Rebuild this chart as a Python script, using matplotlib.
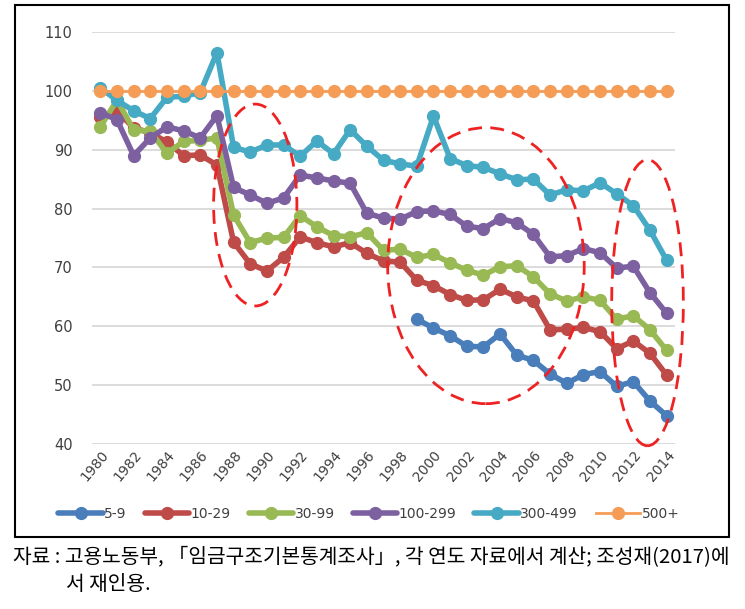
import matplotlib
matplotlib.use("Agg")
import matplotlib.pyplot as plt
from matplotlib.patches import Ellipse, Rectangle
import numpy as np

years = list(range(1980, 2015))

s_5_9 = [None]*19 + [61.2, 59.7, 58.4, 56.6, 56.5, 58.7, 55.1, 54.2, 51.9, 50.3,
                     51.8, 52.3, 49.8, 50.6, 47.3, 44.8]
s_10_29 = [95.6, 96.6, 93.7, 92.9, 91.3, 89.0, 89.1, 87.4, 74.3, 70.6, 69.4, 71.7,
           75.2, 74.2, 73.5, 74.2, 72.4, 71.1, 70.9, 67.8, 66.9, 65.4, 64.4, 64.5,
           66.3, 65.0, 64.3, 59.4, 59.5, 59.8, 59.1, 56.2, 57.5, 55.4, 51.7]
s_30_99 = [93.9, 98.4, 93.4, 93.1, 89.4, 91.4, 91.6, 92.0, 78.9, 74.2, 75.0, 75.1,
           78.8, 76.9, 75.4, 75.2, 75.9, 72.9, 73.1, 71.7, 72.2, 70.8, 69.5, 68.7,
           70.1, 70.3, 68.4, 65.5, 64.3, 65.0, 64.4, 61.2, 61.8, 59.4, 55.9]
s_100_299 = [96.3, 95.1, 89.0, 92.0, 93.9, 93.2, 92.0, 95.8, 83.6, 82.3, 80.9, 81.8,
             85.7, 85.2, 84.7, 84.3, 79.2, 78.4, 78.2, 79.5, 79.6, 79.0, 77.0, 76.6,
             78.3, 77.6, 75.6, 71.8, 72.0, 73.2, 72.5, 69.9, 70.2, 65.7, 62.2]
s_300_499 = [100.5, 98.4, 96.6, 95.3, 98.9, 99.1, 99.7, 106.5, 90.4, 89.6, 90.8, 90.8,
             88.9, 91.5, 89.3, 93.4, 90.6, 88.2, 87.6, 87.2, 95.7, 88.5, 87.3, 87.0,
             85.9, 84.9, 85.0, 82.3, 83.2, 83.0, 84.4, 82.5, 80.5, 76.3, 71.2]
s_500 = [100]*35

labels = ["5-9", "10-29", "30-99", "100-299", "300-499", "500+"]
colors = ["#4A7EBB", "#BE4B48", "#98B954", "#7D60A0", "#46AAC5", "#F59D56"]
series = [s_5_9, s_10_29, s_30_99, s_100_299, s_300_499, s_500]

plt.rcParams['font.family'] = ['DejaVu Sans']
fig = plt.figure(figsize=(7.45, 6.09), dpi=100)
ax = fig.add_axes([92/745, 1-444/609, (675-92)/745, (444-32)/609])

x = np.arange(len(years))
for lab, col, s in zip(labels, colors, series):
    y = np.array([np.nan if v is None else v for v in s], dtype=float)
    if lab == "500+":
        ax.plot(x, y, color=col, lw=2.0, marker='o', ms=8.5, mec=col, mfc=col,
                label=lab, zorder=3)
    else:
        ax.plot(x, y, color=col, lw=4.0, marker='o', ms=8.5, mec=col, mfc=col,
                label=lab, solid_capstyle='round', zorder=3)

ax.set_xlim(-0.5, len(years) - 0.5)
ax.set_ylim(40, 110)
ax.set_yticks(range(40, 111, 10))
ax.set_xticks(x[::2])
ax.set_xticklabels([str(y) for y in years[::2]], rotation=50, ha='right',
                   rotation_mode='anchor', fontsize=10, color='#404040')
ax.tick_params(axis='y', labelsize=10.5, colors='#404040', length=0, pad=14)
ax.tick_params(axis='x', length=0, pad=3)
ax.grid(axis='y', color='#D9D9D9', lw=1.3)
ax.set_axisbelow(True)
for sp in ax.spines.values():
    sp.set_visible(False)

# red dashed ellipses (annotations)
ell = [(9.3, 80.6, 5.0, 34.3), (23.15, 70.3, 11.8, 46.9), (32.85, 64.0, 4.3, 48.6)]
for cx, cy, w, h in ell:
    ax.add_patch(Ellipse((cx, cy), w, h, fill=False, ec='#EE2222', lw=2.0,
                         ls=(0, (5, 3)), zorder=4, clip_on=False))

leg = fig.legend(loc='center', bbox_to_anchor=(369/745, 1-514/609), ncol=6,
                 frameon=False, fontsize=10, handlelength=3.2, columnspacing=1.3,
                 handletextpad=0.1, labelcolor='#404040')

fig.add_artist(Rectangle((15/745, 1-537/609), (729-15)/745, (537-5)/609,
                         transform=fig.transFigure, fill=False, ec='black', lw=1.5))

cap_font = ['Noto Sans CJK KR', 'DejaVu Sans']
fig.text(13/745, 1-558/609, "자료 : 고용노동부, 「임금구조기본통계조사」, 각 연도 자료에서 계산; 조성재(2017)에",
         fontsize=14.6, family=cap_font, va='center', ha='left', color='black')
fig.text(66/745, 1-584/609, "서 재인용.", fontsize=14.6, family=cap_font,
         va='center', ha='left', color='black')

fig.savefig("out.png", dpi=100)
